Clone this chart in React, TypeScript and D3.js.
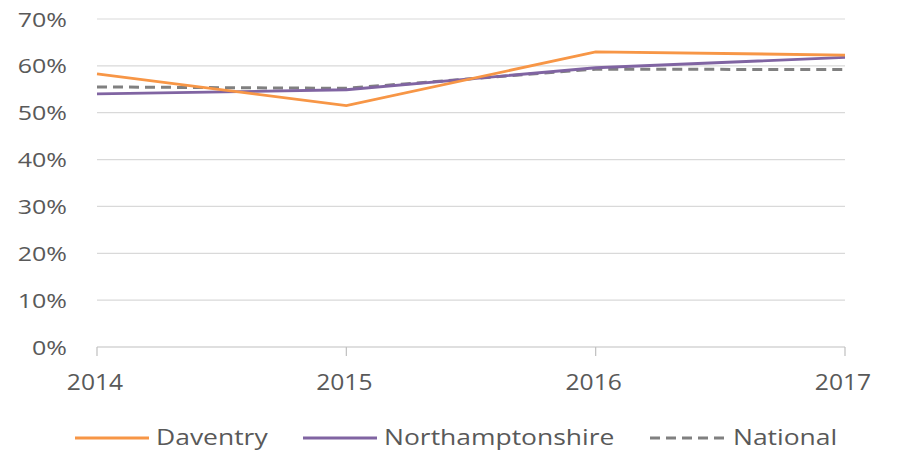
import React from 'react';
import * as d3 from 'd3';

// Years on the x axis
const years = ['2014', '2015', '2016', '2017'];
// Share of pupils (%) per year
const daventry = [58.3, 51.5, 63.0, 62.3];
const northamptonshire = [54.0, 54.9, 59.6, 61.8];
const national = [55.5, 55.2, 59.3, 59.2];
const yTicks = [0, 10, 20, 30, 40, 50, 60, 70];

const series = [
  { name: 'Daventry', values: daventry, color: '#F79646', dash: null },
  { name: 'Northamptonshire', values: northamptonshire, color: '#8064A2', dash: null },
  { name: 'National', values: national, color: '#808080', dash: '10,6' }
];

const W = 898;
const H = 459;
const margin = { top: 19, right: 53, bottom: 112, left: 97 };
const FONT = '"Open Sans", "DejaVu Sans", sans-serif';
const TEXT = '#595959';

// text stretched horizontally, like the source picture
const Stretched: React.FC<{
  x: number; y: number; sx: number; size: number;
  anchor?: 'start' | 'middle' | 'end'; children: React.ReactNode;
}> = ({ x, y, sx, size, anchor = 'start', children }) => (
  <g transform={`translate(${x},${y}) scale(${sx},1)`}>
    <text textAnchor={anchor} fontFamily={FONT} fontSize={size} fill={TEXT}>{children}</text>
  </g>
);

const App: React.FC = () => {
  const x = d3.scalePoint<string>()
    .domain(years)
    .range([margin.left, W - margin.right]);
  const y = d3.scaleLinear()
    .domain([0, 70])
    .range([H - margin.bottom, margin.top]);

  const line = d3.line<number>()
    .x((_, i) => x(years[i]) as number)
    .y(d => y(d));

  const legendItems = [
    { lx: 75, tx: 156 },
    { lx: 303, tx: 384 },
    { lx: 650, tx: 733 }
  ];

  return (
    <svg width={W} height={H} style={{ position: 'absolute', left: 0, top: 0, background: '#fff' }}>
      {/* gridlines + y labels */}
      {yTicks.map(t => (
        <g key={t}>
          {t > 0 && (
            <line x1={margin.left} x2={W - margin.right} y1={y(t)} y2={y(t)}
              stroke="#D9D9D9" strokeWidth={1.2} />
          )}
          <Stretched x={67} y={y(t) + 7.5} sx={1.22} size={20.5} anchor="end">{t}%</Stretched>
        </g>
      ))}
      {/* x axis */}
      <line x1={margin.left} x2={W - margin.right} y1={y(0)} y2={y(0)} stroke="#BFBFBF" strokeWidth={1.2} />
      {years.map(yr => (
        <g key={yr}>
          <line x1={x(yr)} x2={x(yr)} y1={y(0)} y2={y(0) + 9} stroke="#BFBFBF" strokeWidth={1.2} />
          <Stretched x={(x(yr) as number) - 2} y={390} sx={1.12} size={22} anchor="middle">{yr}</Stretched>
        </g>
      ))}
      {/* series lines: national underneath */}
      {[...series].reverse().map(s => (
        <path key={s.name} d={line(s.values) || ''} fill="none" stroke={s.color}
          strokeWidth={s.dash ? 3 : 2.8} strokeDasharray={s.dash || undefined} />
      ))}
      {/* legend */}
      {series.map((s, i) => (
        <g key={s.name}>
          <line x1={legendItems[i].lx} x2={legendItems[i].lx + 74} y1={438} y2={438}
            stroke={s.color} strokeWidth={s.dash ? 3 : 2.8} strokeDasharray={s.dash || undefined} />
          <Stretched x={legendItems[i].tx} y={445} sx={1.26} size={21}>{s.name}</Stretched>
        </g>
      ))}
    </svg>
  );
};

export default App;
